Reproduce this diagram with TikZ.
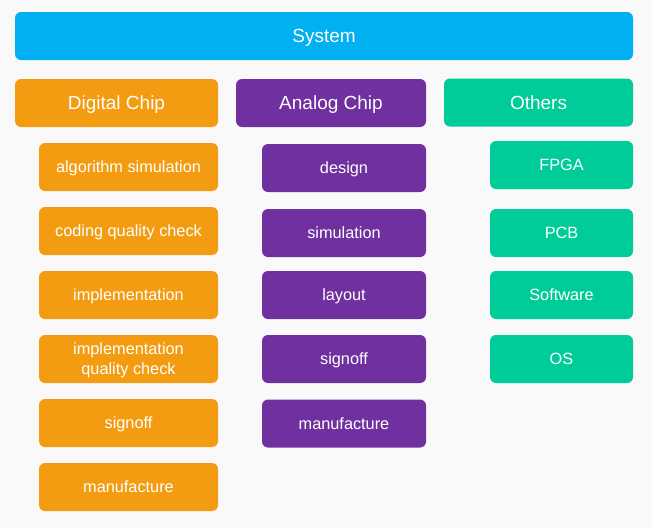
\documentclass[tikz,border=0pt]{standalone}
\usepackage{fontspec}
\setmainfont{Liberation Sans}
\definecolor{pagebg}{HTML}{F9F9F9}
\definecolor{sysblue}{HTML}{00B0F0}
\definecolor{digorange}{HTML}{F39C12}
\definecolor{anapurple}{HTML}{7030A0}
\definecolor{othgreen}{HTML}{00CC99}
\tikzset{
  box/.style={rectangle, rounded corners=6pt, inner sep=0pt, text=white, align=center,
    text depth=0pt},
  hdr/.style={box, font=\fontsize{19}{22}\selectfont, text height=13.6pt},
  item/.style={box, font=\fontsize{16.3}{20}\selectfont, text height=11.7pt},
  digital/.style={item, fill=digorange, minimum width=179pt, minimum height=48pt},
  analog/.style={item, fill=anapurple, minimum width=164pt, minimum height=48pt},
  other/.style={item, fill=othgreen, minimum width=143pt, minimum height=48pt},
}
\begin{document}
\begin{tikzpicture}[x=1pt, y=-1pt]
  % page background
  \fill[pagebg] (0,0) rectangle (652,528);
  \useasboundingbox (0,0) rectangle (652,528);

  % top level
  \node[hdr, fill=sysblue, minimum width=618pt, minimum height=48pt] (system) at (324,36) {System};

  % column headers
  \node[hdr, fill=digorange, minimum width=203pt, minimum height=48pt] (digital) at (116.5,103) {Digital Chip};
  \node[hdr, fill=anapurple, minimum width=190pt, minimum height=48pt] (analog) at (331,103) {Analog Chip};
  \node[hdr, fill=othgreen, minimum width=189pt, minimum height=48pt] (others) at (538.5,102.5) {Others};

  % digital chip steps
  \node[digital] (d1) at (128.5,167) {algorithm simulation};
  \node[digital] (d2) at (128.5,231) {coding quality check};
  \node[digital] (d3) at (128.5,295) {implementation};
  % two-line label: height spans cap height of line one plus one baseline skip
  \node[digital, text height=31.7pt] (d4) at (128.5,359) {implementation\\quality check};
  \node[digital] (d5) at (128.5,423) {signoff};
  \node[digital] (d6) at (128.5,487) {manufacture};

  % analog chip steps
  \node[analog] (a1) at (344,168) {design};
  \node[analog] (a2) at (344,233) {simulation};
  \node[analog] (a3) at (344,295) {layout};
  \node[analog] (a4) at (344,359) {signoff};
  \node[analog] (a5) at (344,423.5) {manufacture};

  % other items
  \node[other] (o1) at (561.5,165) {FPGA};
  \node[other] (o2) at (561.5,233) {PCB};
  \node[other] (o3) at (561.5,295) {Software};
  \node[other] (o4) at (561.5,359) {OS};
\end{tikzpicture}
\end{document}
